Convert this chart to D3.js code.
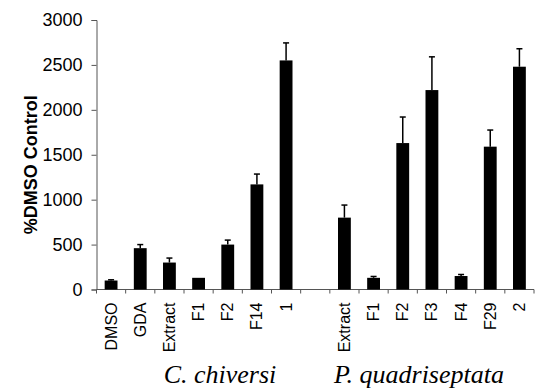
<!DOCTYPE html>
<html>
<head>
<meta charset="utf-8">
<script src="https://cdn.jsdelivr.net/npm/d3@7"></script>
<style>
  body { margin: 0; background: #fff; }
  svg { display: block; }
</style>
</head>
<body>
<div id="chart"></div>
<script>
// bar labels, one slot left empty between the two species
const labels = ["DMSO", "GDA", "Extract", "F1", "F2", "F14", "1", "", "Extract", "F1", "F2", "F3", "F4", "F29", "2"];
// %DMSO control values
const values = [100, 460, 300, 130, 500, 1170, 2550, null, 800, 130, 1630, 2220, 150, 1590, 2480];
// upper error (only plus side drawn)
const errors = [8, 40, 50, 0, 50, 115, 195, null, 140, 15, 290, 370, 17, 185, 200];
const groups = ["C. chiversi", "P. quadriseptata"];
const yTicks = [0, 500, 1000, 1500, 2000, 2500, 3000];

const width = 536, height = 389;
const margin = { left: 96.5, right: 2, top: 20, bottom: 99.5 };

const svg = d3.select("#chart").append("svg")
  .attr("width", width)
  .attr("height", height);

const ids = labels.map((d, i) => i);
const x = d3.scaleBand()
  .domain(ids)
  .range([margin.left, width - margin.right])
  .paddingInner(0.56)
  .paddingOuter(0.28);

const y = d3.scaleLinear()
  .domain([0, 3000])
  .range([height - margin.bottom, margin.top]);

// y axis
const yAxis = svg.append("g")
  .attr("transform", `translate(${margin.left},0)`)
  .call(d3.axisLeft(y).tickValues(yTicks).tickFormat(d3.format("d")).tickSize(5).tickPadding(9));
yAxis.select(".domain").attr("stroke", "#555");
yAxis.selectAll(".tick line").attr("stroke", "#555");
yAxis.selectAll("text")
  .attr("font-family", "Liberation Sans, Arial, sans-serif")
  .attr("font-size", 18)
  .attr("fill", "#000");

svg.append("text")
  .attr("transform", `translate(31,${(margin.top + height - margin.bottom) / 2 + 10}) rotate(-90)`)
  .attr("text-anchor", "middle")
  .attr("dominant-baseline", "central")
  .attr("font-family", "Liberation Sans, Arial, sans-serif")
  .attr("font-weight", "bold")
  .attr("font-size", 18)
  .text("%DMSO Control");

// x axis: line with ticks at slot boundaries
const y0 = y(0);
const step = x.step();
svg.append("line")
  .attr("x1", margin.left).attr("x2", width - margin.right)
  .attr("y1", y0).attr("y2", y0)
  .attr("stroke", "#555");
svg.append("g").selectAll("line")
  .data(ids.concat([ids.length]))
  .join("line")
  .attr("x1", (d) => margin.left + d * step)
  .attr("x2", (d) => margin.left + d * step)
  .attr("y1", y0).attr("y2", y0 + 4)
  .attr("stroke", "#555");

// category labels, rotated
svg.append("g").selectAll("text")
  .data(ids)
  .join("text")
  .attr("transform", (d) => `translate(${x(d) + x.bandwidth() / 2},${y0 + 13}) rotate(-90)`)
  .attr("text-anchor", "end")
  .attr("dominant-baseline", "central")
  .attr("font-family", "Liberation Sans, Arial, sans-serif")
  .attr("font-size", 16)
  .text((d) => labels[d]);

// bars
const barData = ids.filter((i) => values[i] != null);
svg.append("g").selectAll("rect")
  .data(barData)
  .join("rect")
  .attr("x", (d) => x(d))
  .attr("width", x.bandwidth())
  .attr("y", (d) => y(values[d]))
  .attr("height", (d) => y0 - y(values[d]))
  .attr("fill", "#000");

// error bars (upper only)
const errG = svg.append("g").attr("stroke", "#000").attr("stroke-width", 1.5);
barData.filter((i) => errors[i] > 0).forEach((i) => {
  const cx = x(i) + x.bandwidth() / 2;
  errG.append("line")
    .attr("x1", cx).attr("x2", cx)
    .attr("y1", y(values[i])).attr("y2", y(values[i] + errors[i]));
  errG.append("line")
    .attr("x1", cx - 3).attr("x2", cx + 3)
    .attr("y1", y(values[i] + errors[i])).attr("y2", y(values[i] + errors[i]));
});

// species labels
const groupX = [220, 419];
svg.append("g").selectAll("text")
  .data(groups)
  .join("text")
  .attr("x", (d, i) => groupX[i])
  .attr("y", 383)
  .attr("text-anchor", "middle")
  .attr("font-family", "Liberation Serif, Times New Roman, serif")
  .attr("font-style", "italic")
  .attr("font-size", 26)
  .text((d) => d);
</script>
</body>
</html>
